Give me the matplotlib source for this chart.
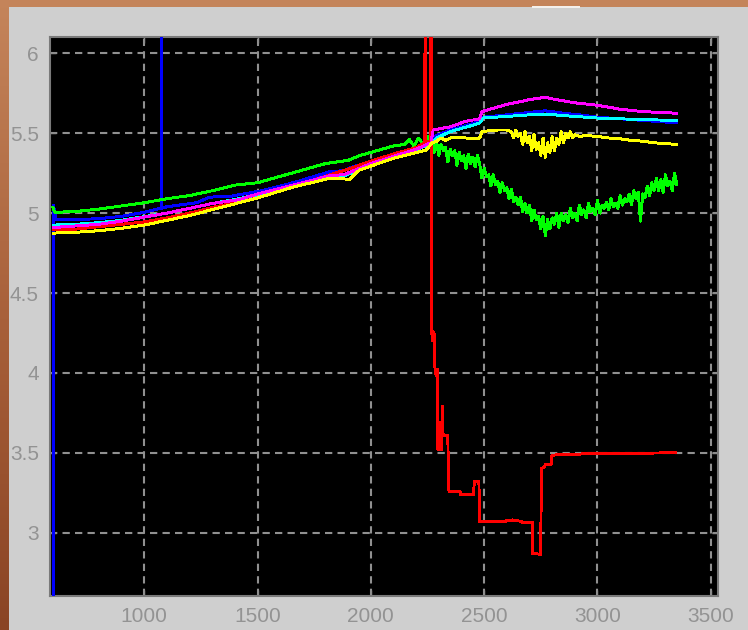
import matplotlib.pyplot as plt
import numpy as np
from matplotlib.patches import Rectangle
from matplotlib.colors import LinearSegmentedColormap

# ---- traces -------------------------------------------------------------
blue_x = [598, 599, 610, 700, 800, 900, 1000, 1070, 1076, 1077, 1078, 1100, 1230, 1290,
          1380, 1520, 1670, 1820, 1880, 1920, 2000, 2110, 2200, 2260, 2280, 2350, 2450,
          2480, 2495, 2600, 2700, 2770, 2850, 2950, 3000, 3100, 3200, 3350]
blue_y = [2.0, 5.05, 4.96, 4.96, 4.965, 4.98, 5.005, 5.03, 5.03, 7.0, 5.03, 5.04, 5.065, 5.10,
          5.105, 5.14, 5.195, 5.26, 5.265, 5.29, 5.32, 5.365, 5.40, 5.43, 5.48, 5.52, 5.56,
          5.575, 5.60, 5.615, 5.63, 5.64, 5.625, 5.61, 5.60, 5.59, 5.58, 5.565]

green_x = [597, 605, 700, 730, 800, 900, 1000, 1100, 1200, 1300, 1400, 1500, 1600, 1700,
           1800, 1850, 1900, 1950, 2000, 2100, 2150, 2170, 2190, 2210, 2230, 2250, 2260,
           2270, 2280, 2290, 2300, 2310, 2320, 2330, 2340, 2350, 2360, 2370, 2380, 2390,
           2400, 2410, 2420, 2430, 2440, 2450, 2460, 2470, 2480, 2490, 2500, 2510, 2520,
           2530, 2540, 2550, 2560, 2570, 2580, 2590, 2600, 2610, 2620, 2630, 2640, 2650,
           2660, 2670, 2680, 2690, 2700, 2710, 2720, 2730, 2740, 2750, 2760, 2770, 2780,
           2790, 2800, 2810, 2820, 2830, 2840, 2850, 2860, 2870, 2880, 2890, 2900, 2910,
           2920, 2930, 2940, 2950, 2960, 2970, 2980, 2990, 3000, 3010, 3020, 3030, 3040,
           3050, 3060, 3070, 3080, 3090, 3100, 3110, 3120, 3130, 3140, 3150, 3160, 3170,
           3180, 3190, 3200, 3210, 3220, 3230, 3240, 3250, 3260, 3270, 3280, 3290, 3300,
           3310, 3320, 3330, 3340, 3350]
green_y = [5.035, 5.005, 5.01, 5.015, 5.025, 5.045, 5.065, 5.09, 5.11, 5.14, 5.175, 5.19,
           5.23, 5.27, 5.31, 5.32, 5.33, 5.36, 5.38, 5.42, 5.43, 5.46, 5.42, 5.47, 5.43,
           5.48, 5.44,
           5.46, 5.38, 5.45, 5.36, 5.43, 5.39, 5.41, 5.32, 5.40, 5.36, 5.39, 5.30, 5.38,
           5.33, 5.36, 5.28, 5.37, 5.31, 5.35, 5.29, 5.36, 5.31, 5.22, 5.28, 5.23, 5.24,
           5.17, 5.24, 5.18, 5.20, 5.13, 5.19, 5.14, 5.16, 5.09, 5.15, 5.07, 5.10, 5.05,
           5.10, 5.01, 5.06, 5.00, 5.05, 4.95, 5.02, 4.96, 4.98, 4.90, 4.98, 4.86, 4.96,
           4.90, 4.97, 4.93, 5.00, 4.91, 5.00, 4.95, 4.99, 4.94, 5.03, 4.97, 5.00, 4.95,
           5.05, 4.99, 5.02, 4.97, 5.06, 5.01, 5.03, 4.99, 5.08, 5.00, 5.05, 5.03, 5.07,
           5.02, 5.09, 5.04, 5.06, 5.03, 5.11, 5.05, 5.09, 5.07, 5.12, 5.05, 5.14, 5.09,
           5.13, 4.95, 5.12, 5.10, 5.17, 5.11, 5.19, 5.14, 5.22, 5.14, 5.21, 5.13, 5.24,
           5.17, 5.20, 5.14, 5.25, 5.18]

red_x = [600, 700, 800, 900, 1000, 1100, 1200, 1300, 1400, 1500, 1600, 1700, 1820, 1900,
         2000, 2100, 2200, 2238, 2240, 2242, 2262, 2264, 2268, 2269, 2272, 2275, 2278,
         2281, 2283, 2286, 2290, 2294, 2296, 2299, 2301, 2304, 2306, 2309, 2311, 2314,
         2316, 2318, 2320, 2340, 2342, 2346, 2393, 2395, 2454, 2456, 2477, 2479, 2595,
         2600, 2615, 2625, 2640, 2660, 2670, 2712, 2714, 2750, 2752, 2765, 2770, 2785,
         2797, 2799, 2850, 2900, 2950, 3000, 3100, 3200, 3346]
red_y = [4.895, 4.90, 4.915, 4.93, 4.945, 4.97, 5.0, 5.035, 5.065, 5.10, 5.14, 5.185, 5.24,
         5.275, 5.325, 5.37, 5.41, 5.44, 6.8, 5.44, 5.45, 6.8, 6.8, 4.25, 4.20, 4.26, 4.21,
         4.24, 4.03, 4.0, 3.98, 4.02, 3.52, 3.69, 3.52, 3.68, 3.53, 3.69, 3.52, 3.66,
         3.79, 3.62, 3.61, 3.61, 3.27, 3.26, 3.26, 3.24, 3.24, 3.32, 3.32, 3.07, 3.07,
         3.078, 3.075, 3.08, 3.076, 3.072, 3.065, 3.065, 2.87, 2.865, 3.40, 3.41, 3.425, 3.425,
         3.43, 3.485, 3.49, 3.49, 3.495, 3.495, 3.497, 3.498, 3.50]

cyan_x = [600, 700, 800, 900, 1000, 1100, 1200, 1300, 1400, 1500, 1600, 1700, 1820, 1880,
          1950, 2000, 2100, 2200, 2270, 2290, 2350, 2450, 2480, 2495, 2600, 2700, 2770,
          2850, 2950, 3000, 3100, 3200, 3350]
cyan_y = [4.925, 4.93, 4.94, 4.955, 4.978, 5.0, 5.03, 5.06, 5.085, 5.115, 5.15, 5.185, 5.228,
          5.23, 5.275, 5.30, 5.345, 5.395, 5.44, 5.47, 5.51, 5.55, 5.565, 5.595, 5.605,
          5.615, 5.62, 5.61, 5.60, 5.595, 5.59, 5.585, 5.58]

magenta_x = [600, 700, 800, 900, 1000, 1100, 1200, 1300, 1420, 1500, 1600, 1700, 1820, 1880,
             1950, 2000, 2100, 2200, 2265, 2275, 2350, 2420, 2480, 2490, 2550, 2600, 2700,
             2770, 2800, 2900, 3000, 3100, 3200, 3350]
magenta_y = [4.91, 4.92, 4.93, 4.95, 4.975, 5.0, 5.03, 5.06, 5.085, 5.12, 5.155, 5.19, 5.235,
             5.24, 5.28, 5.31, 5.355, 5.40, 5.44, 5.52, 5.54, 5.575, 5.59, 5.635, 5.66, 5.68,
             5.71, 5.725, 5.715, 5.69, 5.675, 5.65, 5.635, 5.625]

yellow_x = [600, 700, 800, 900, 1000, 1100, 1200, 1377, 1500, 1650, 1817, 1906, 1950, 2100,
            2245, 2270, 2290, 2310, 2330, 2350, 2380, 2420, 2460, 2480, 2490, 2520, 2560,
            2600, 2620, 2630, 2640, 2650, 2660, 2670, 2680, 2690, 2700, 2710, 2720, 2730,
            2740, 2750, 2760, 2770, 2780, 2790, 2800, 2810, 2820, 2830, 2840, 2850, 2860,
            2870, 2880, 2890, 2900, 2920, 2950, 3000, 3050, 3100, 3150, 3200, 3250, 3300,
            3350]
yellow_y = [4.875, 4.88, 4.89, 4.905, 4.925, 4.955, 4.985, 5.05, 5.095, 5.16, 5.218, 5.212,
            5.27, 5.343, 5.395, 5.44, 5.45, 5.47, 5.455, 5.47, 5.475, 5.47, 5.465, 5.47,
            5.51, 5.515, 5.52, 5.52, 5.51, 5.47, 5.52, 5.48, 5.50, 5.43, 5.51, 5.44, 5.48,
            5.39, 5.49, 5.40, 5.44, 5.36, 5.47, 5.35, 5.44, 5.38, 5.48, 5.39, 5.47, 5.43,
            5.51, 5.44, 5.50, 5.47, 5.51, 5.47, 5.49, 5.48, 5.485, 5.48, 5.47, 5.465, 5.455,
            5.45, 5.44, 5.435, 5.43]

xticks = [1000, 1500, 2000, 2500, 3000, 3500]
yticks = [3, 3.5, 4, 4.5, 5, 5.5, 6]
ytick_labels = ["3", "3.5", "4", "4.5", "5", "5.5", "6"]

# ---- figure -------------------------------------------------------------
W, H = 748, 630
fig = plt.figure(figsize=(W / 100, H / 100), dpi=100, facecolor="#cfcfcf")

# window frame: orange strip on top, shaded strip down the left side
fig.add_artist(Rectangle((0, 1 - 7 / H), 1, 7 / H, transform=fig.transFigure,
                         facecolor="#c4845a", edgecolor="none", zorder=0))
strip = fig.add_axes([0, 0, 9 / W, 1 - 7 / H])
shade = np.linspace(0, 1, 256)[:, None]
strip.imshow(shade, aspect="auto", cmap=LinearSegmentedColormap.from_list(
    "frame", ["#c4845a", "#a8603a", "#8a4424"]))
strip.axis("off")
fig.add_artist(Rectangle((532 / W, 1 - 8 / H), 48 / W, 2 / H, transform=fig.transFigure,
                         facecolor="#f4f0ec", edgecolor="none", zorder=1))

ax = fig.add_axes([50 / W, 34 / H, 668 / W, 559 / H])
ax.set_facecolor("black")

traces = [(blue_x, blue_y, "#0000ff"), (green_x, green_y, "#00ff00"),
          (red_x, red_y, "#ff0000"), (cyan_x, cyan_y, "#00ffff"),
          (magenta_x, magenta_y, "#ff00ff"), (yellow_x, yellow_y, "#ffff00")]
for xs, ys, c in traces:
    ax.plot(xs, ys, color=c, linewidth=1.4, antialiased=False, zorder=3)

ax.set_xlim(584, 3532)
ax.set_ylim(2.604, 6.102)
ax.set_xticks(xticks)
ax.set_xticklabels([str(t) for t in xticks])
ax.set_yticks(yticks)
ax.set_yticklabels(ytick_labels)

ax.grid(True, color="#909090", linestyle=(0, (3.5, 2.5)), linewidth=1.5, zorder=1)
ax.tick_params(direction="in", length=4, width=1, color="#8c8c8c", top=True, right=True,
               labelsize=15, labelcolor="#939393", pad=8)
for lbl in ax.get_xticklabels() + ax.get_yticklabels():
    lbl.set_fontfamily("Liberation Sans")
for sp in ax.spines.values():
    sp.set_color("#7a7a7a")
    sp.set_linewidth(1.5)

fig.savefig("out.png", dpi=100, facecolor=fig.get_facecolor())
